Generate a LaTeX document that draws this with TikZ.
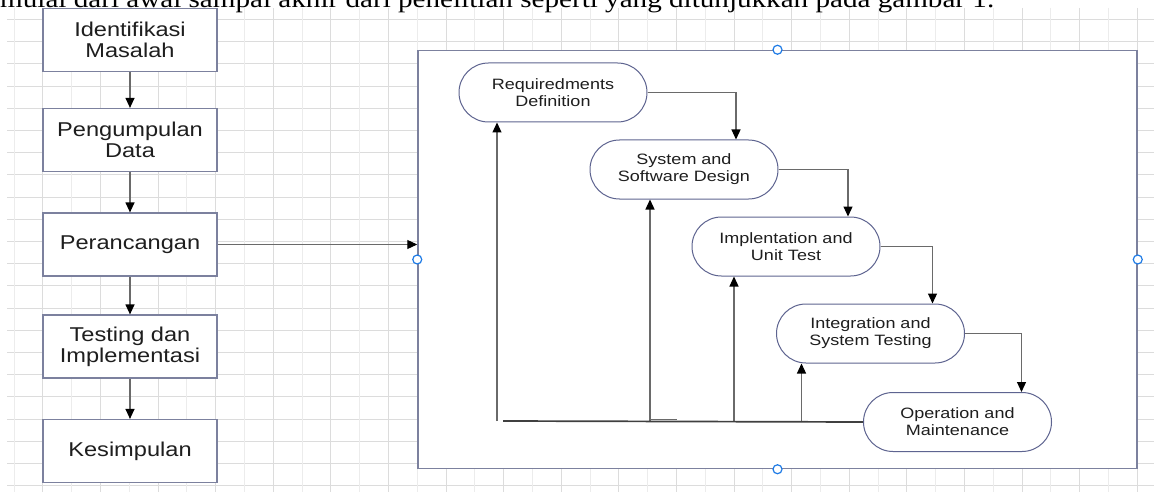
\documentclass[tikz,border=0pt]{standalone}
\usepackage{fontspec}
\setmainfont{Liberation Sans}
\newfontfamily\boxfont[FakeStretch=1.18]{Liberation Sans}
\newfontfamily\stepfont[FakeStretch=1.2]{Liberation Sans}
\newfontfamily\bodyfont[FakeStretch=1.165]{Liberation Serif}
\usetikzlibrary{arrows.meta,shapes.misc,calc}

\definecolor{gridA}{HTML}{DCDCDC}
\definecolor{gridB}{HTML}{ECECEC}
\definecolor{edge}{HTML}{7C819E}
\definecolor{phaseedge}{HTML}{5E6490}
\definecolor{wire}{HTML}{6A6A6A}
\definecolor{handle}{HTML}{1E7BE6}
\definecolor{ink}{HTML}{1E1E1E}

\tikzset{
  procbox/.style={draw=edge, line width=1.2pt, fill=white,
    minimum width=174pt, minimum height=63pt, inner sep=0pt,
    align=center, text=ink, font=\boxfont\fontsize{20}{21}\selectfont},
  phase/.style={rounded rectangle, draw=phaseedge, line width=1pt, fill=white,
    minimum width=188pt, minimum height=59pt, inner sep=0pt,
    align=center, text=ink, font=\stepfont\fontsize{15}{17}\selectfont},
  flow/.style={draw=wire, line width=1.2pt,
    -{Triangle[length=10pt,width=9pt,color=black]}},
  back/.style={draw=ink!85, line width=1.7pt},
  handlemark/.style={circle, draw=handle, fill=white, line width=1.2pt,
    minimum size=9pt, inner sep=0pt},
}

\begin{document}
\begin{tikzpicture}[x=1pt,y=-1pt]
\useasboundingbox (0,0) rectangle (1154,492);
\clip (0,0) rectangle (1154,492);
\fill[white] (0,0) rectangle (1154,492);

% background grid
\foreach \k in {0,...,21}
  \draw[gridA, line width=1pt] (7,{19.5+22.2*\k}) -- (1154,{19.5+22.2*\k});
\foreach \k in {0,...,39}{
  \pgfmathtruncatemacro{\odd}{mod(\k,2)}
  \ifnum\odd=0
    \draw[gridB, line width=1pt] ({14+28.8*\k},8) -- ({14+28.8*\k},492);
  \else
    \draw[gridA, line width=1pt] ({14+28.8*\k},8) -- ({14+28.8*\k},492);
  \fi
}

% running text line above the figure
\node[anchor=base west, inner sep=0pt, text=black,
  font=\bodyfont\fontsize{25}{30}\selectfont] (intro) at (0,8)
  {mulai dari awal sampai akhir dari penelitian seperti yang ditunjukkan pada gambar 1.};

% research stages
\node[procbox] (b1) at (130,40)    {Identifikasi\\Masalah};
\node[procbox] (b2) at (130,140)   {Pengumpulan\\Data};
\node[procbox] (b3) at (130,244.5) {Perancangan};
\node[procbox] (b4) at (130,346.5) {Testing dan\\Implementasi};
\node[procbox] (b5) at (130,451)   {Kesimpulan};

\draw[flow] (b1.south) -- (b2.north);
\draw[flow] (b2.south) -- (b3.north);
\draw[flow] (b3.south) -- (b4.north);
\draw[flow] (b4.south) -- (b5.north);

% waterfall frame
\node[draw=edge, line width=1.5pt, fill=white, minimum width=719pt,
  minimum height=418pt, inner sep=0pt] (frame) at (777.5,259.5) {};

\draw[flow] (b3.east) -- (b3.east -| frame.west);

% waterfall phases
\node[phase] (r1) at (553,92.5)  {Requiredments\\Definition};
\node[phase] (s2) at (684,169.5) {System and\\Software Design};
\node[phase] (i3) at (786,246.5) {Implentation and\\Unit Test};
\node[phase] (t4) at (870.5,333.5) {Integration and\\System Testing};
\node[phase] (o5) at (957.5,422) {Operation and\\Maintenance};

% forward flow
\draw[flow] (r1.east) -| ([xshift=52pt]s2.north);
\draw[flow] (s2.east) -| ([xshift=62pt]i3.north);
\draw[flow] (i3.east) -| ([xshift=62pt]t4.north);
\draw[flow] (t4.east) -| ([xshift=64pt]o5.north);

% feedback paths
\coordinate (fb) at (497,421);
\draw[flow] (fb) -- (fb |- r1.south);
\draw[flow] ([xshift=-34pt]s2.south |- fb) -- ([xshift=-34pt]s2.south);
\draw[flow] ([xshift=-52pt]i3.south |- fb) -- ([xshift=-52pt]i3.south);
\draw[flow] ([xshift=-69pt]t4.south |- fb) -- ([xshift=-69pt]t4.south);
\draw[wire, line width=1pt] ([xshift=-34pt]s2.south |- 0,419) -- ([xshift=-7pt]s2.south |- 0,419);
\draw[back] (o5.west) -- ([xshift=6pt]fb);

% selection handles on the frame
\node[handlemark] (hn) at (frame.north) {};
\node[handlemark] (hs) at (frame.south) {};
\node[handlemark] (hw) at (frame.west) {};
\node[handlemark] (he) at (frame.east) {};
\end{tikzpicture}
\end{document}
